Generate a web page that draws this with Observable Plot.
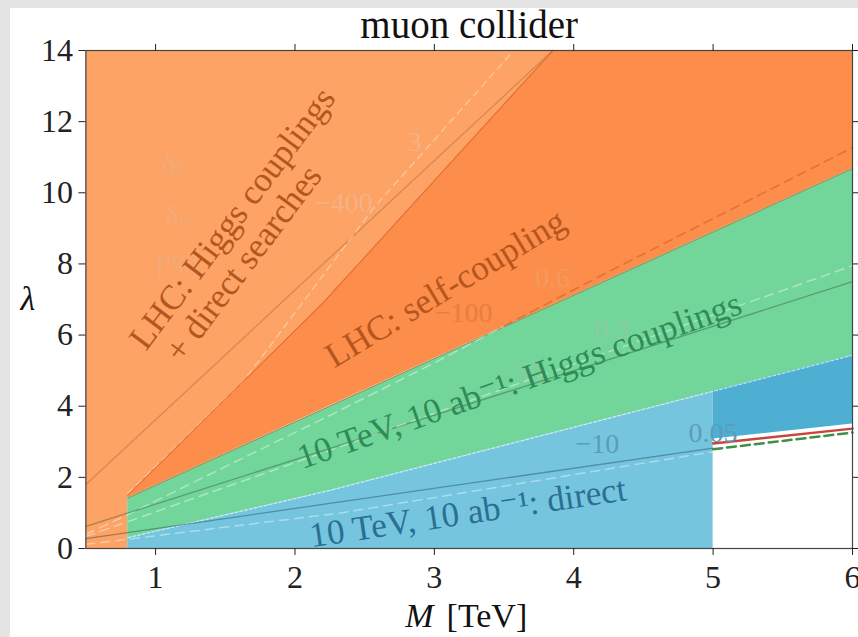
<!DOCTYPE html>
<html><head><meta charset="utf-8">
<script src="https://cdn.jsdelivr.net/npm/d3@7"></script>
<script src="https://cdn.jsdelivr.net/npm/@observablehq/plot@0.6"></script>
<style>
html,body{margin:0;padding:0;background:#e4e4e4;width:858px;height:637px;overflow:hidden;}
#chart{position:absolute;left:10px;top:8px;}
</style></head><body><div id="chart"></div>
<script>
const xTicks = [1, 2, 3, 4, 5, 6];
const yTicks = [0, 2, 4, 6, 8, 10, 12, 14];

// Regions (M in TeV, lambda lower / upper edge)
const lhcHiggsRegion = [
  {M: 0.5, lo: 0, hi: 14}, {M: 0.8, lo: 0, hi: 14}, {M: 0.8, lo: 1.5, hi: 14},
  {M: 1.5, lo: 4.2, hi: 14}, {M: 2.2, lo: 6.9, hi: 14}, {M: 3.85, lo: 14, hi: 14}
];
const lhcSelfRegion = [
  {M: 0.8, lo: 1.42, hi: 1.5}, {M: 1.5, lo: 2.67, hi: 4.2}, {M: 2.2, lo: 3.92, hi: 6.9},
  {M: 3.85, lo: 6.85, hi: 14}, {M: 6, lo: 10.68, hi: 14}
];
const muHiggsRegion = [
  {M: 0.8, lo: 0.3, hi: 1.42}, {M: 2.25, lo: 1.63, hi: 4.0},
  {M: 4.55, lo: 3.96, hi: 8.1}, {M: 6, lo: 5.43, hi: 10.68}
];
const muDirectRegion = [
  {M: 0.8, lo: 0, hi: 0.3}, {M: 2.25, lo: 0, hi: 1.63},
  {M: 4.55, lo: 0, hi: 3.96}, {M: 5, lo: 0, hi: 4.42}
];
const muDirectHighRegion = [{M: 5, lo: 3.08, hi: 4.42}, {M: 6, lo: 3.5, hi: 5.43}];

// Boundary / contour lines
const directEdge = [{M: 0.8, l: 0.3}, {M: 2.25, l: 1.63}, {M: 4.55, l: 3.96}, {M: 6, l: 5.43}];
const selfEdge = [{M: 0.8, l: 1.42}, {M: 6, l: 10.68}];
const higgsEdge = [{M: 0.8, l: 1.5}, {M: 1.5, l: 4.2}, {M: 2.2, l: 6.9}, {M: 3.85, l: 14}];
const lhcHiggsSolid = [{M: 0.5, l: 1.8}, {M: 1.9, l: 6.9}, {M: 3.85, l: 14}];
const lhcHiggsDashed = [{M: 0.8, l: 1.55}, {M: 1.63, l: 4.7}, {M: 2.57, l: 9.6}, {M: 3.57, l: 14}];
const dh06Low = [{M: 0.5, l: 0.4}, {M: 0.8, l: 0.95}, {M: 2.28, l: 3.8}, {M: 3.04, l: 5.3}, {M: 3.5, l: 6.25}];
const dh06High = [{M: 3.5, l: 6.25}, {M: 4.17, l: 7.62}, {M: 6, l: 11.27}];
const greenSolid = [{M: 0.5, l: 0.62}, {M: 6, l: 7.5}];
const greenDashed = [{M: 0.5, l: 0.34}, {M: 6, l: 7.95}];
const blueSolid = [{M: 0.5, l: 0.28}, {M: 5, l: 2.82}];
const blueDashed = [{M: 0.5, l: 0.12}, {M: 0.82, l: 0.27}, {M: 2.33, l: 1.0}, {M: 5, l: 2.72}];
const redLine = [{M: 5, l: 2.95}, {M: 6, l: 3.37}];
const greenDarkDashed = [{M: 5, l: 2.79}, {M: 6, l: 3.26}];

// Text
const regionLabels = [
  {t: "LHC: Higgs couplings", M: 1.551, l: 9.28, r: -53, c: "#b5561f"},
  {t: "+ direct searches", M: 1.63, l: 8.01, r: -53, c: "#b5561f"},
  {t: "LHC: self-coupling", M: 3.08, l: 7.31, r: -31, c: "#b5561f"},
  {t: "10 TeV, 10 ab⁻¹: Higgs couplings", M: 3.61, l: 4.72, r: -19.5, c: "#2f8c55"},
  {t: "10 TeV, 10 ab⁻¹: direct", M: 3.24, l: 1.01, r: -8.5, c: "#2b6f92"}
];
const contourLabels = [
  {t: "δₕ", M: 1.14, l: 10.82, c: "#f2ab7b"},
  {t: "δᵥᵥ", M: 1.18, l: 9.36, c: "#f2ab7b"},
  {t: "[%]", M: 1.16, l: 7.96, c: "#f2ab7b"},
  {t: "3", M: 2.86, l: 11.44, c: "#f6b184"},
  {t: "−400", M: 2.35, l: 9.7, c: "#f6b184"},
  {t: "−100", M: 3.21, l: 6.61, c: "#ea7c40"},
  {t: "0.6", M: 3.85, l: 7.59, c: "#f39a5e"},
  {t: "0.3", M: 4.27, l: 6.18, c: "#8ccaa0"},
  {t: "−50", M: 3.62, l: 4.95, c: "#8ccaa0"},
  {t: "−10", M: 4.17, l: 2.95, c: "#5b9db9"},
  {t: "0.05", M: 5.0, l: 3.26, c: "#5b9db9"}
];

const serif = "'Liberation Serif', 'DejaVu Serif', serif";
const line = (data, o) => Plot.line(data, {x: "M", y: "l", ...o});

const chart = Plot.plot({
  width: 848, height: 629,
  marginLeft: 75.4, marginRight: 6, marginTop: 42, marginBottom: 89,
  x: {domain: [0.5, 6]},
  y: {domain: [0, 14]},
  color: {type: "identity"},
  style: {fontFamily: serif, background: "white", color: "#222", overflow: "visible"},
  marks: [
    Plot.areaY(lhcHiggsRegion, {x: "M", y1: "lo", y2: "hi", fill: "#fca365"}),
    Plot.areaY(lhcSelfRegion, {x: "M", y1: "lo", y2: "hi", fill: "#fc8d4a"}),
    Plot.areaY(muHiggsRegion, {x: "M", y1: "lo", y2: "hi", fill: "#72d69a"}),
    Plot.areaY(muDirectRegion, {x: "M", y1: "lo", y2: "hi", fill: "#75c5df"}),
    Plot.areaY(muDirectHighRegion, {x: "M", y1: "lo", y2: "hi", fill: "#4fafd3"}),
    line(lhcHiggsSolid, {stroke: "#5a2a10", strokeOpacity: 0.22, strokeWidth: 1.3}),
    line(lhcHiggsDashed, {stroke: "white", strokeOpacity: 0.4, strokeWidth: 1.3, strokeDasharray: "7,5"}),
    line(higgsEdge, {stroke: "#e4692a", strokeOpacity: 0.8, strokeWidth: 1.3}),
    line(selfEdge, {stroke: "#b85a28", strokeOpacity: 0.55, strokeWidth: 1.1}),
    line(directEdge, {stroke: "white", strokeOpacity: 0.7, strokeWidth: 1, strokeDasharray: "3,2"}),
    line(dh06Low, {stroke: "white", strokeOpacity: 0.4, strokeWidth: 1.5, strokeDasharray: "9,6"}),
    line(dh06High, {stroke: "#c8561c", strokeOpacity: 0.5, strokeWidth: 1.5, strokeDasharray: "9,6"}),
    line(greenSolid, {stroke: "#1f3a2a", strokeOpacity: 0.35, strokeWidth: 1.3}),
    line(greenDashed, {stroke: "white", strokeOpacity: 0.4, strokeWidth: 1.5, strokeDasharray: "9,6"}),
    line(blueSolid, {stroke: "#1c3a4c", strokeOpacity: 0.4, strokeWidth: 1.3}),
    line(blueDashed, {stroke: "white", strokeOpacity: 0.4, strokeWidth: 1.5, strokeDasharray: "9,6"}),
    line(redLine, {stroke: "#c9463d", strokeWidth: 2.5}),
    line(greenDarkDashed, {stroke: "#3f8f47", strokeWidth: 2.5, strokeDasharray: "9,5"}),
    Plot.text(contourLabels, {x: "M", y: "l", text: "t", fill: "c", fontSize: 28, fontFamily: serif}),
    Plot.text(regionLabels, {x: "M", y: "l", text: "t", fill: "c", rotate: "r", fontSize: 35, fontFamily: serif}),
    Plot.frame({stroke: "#444", strokeWidth: 1.2}),
    Plot.axisX(xTicks, {anchor: "bottom", tickSize: 7, tickPadding: 10, fontSize: 32, label: null, tickFormat: d3.format("d"), fontFamily: serif}),
    Plot.axisX(xTicks, {anchor: "top", tickSize: 7, tickFormat: () => "", label: null}),
    Plot.axisY(yTicks, {anchor: "left", tickSize: 7, tickPadding: 6, fontSize: 32, label: null, tickFormat: d3.format("d"), fontFamily: serif}),
    Plot.axisY(yTicks, {anchor: "right", tickSize: 7, tickFormat: () => "", label: null}),
    Plot.text(["muon collider"], {text: d => d, frameAnchor: "top", lineAnchor: "middle", dy: -25, fontSize: 39, fontFamily: serif, fill: "#111"}),
    Plot.text([{M: 2.893}], {x: "M", text: () => "M", frameAnchor: "bottom", lineAnchor: "middle", dy: 68, fontSize: 34, fontStyle: "italic", fontFamily: serif, fill: "#111"}),
    Plot.text([{M: 3.377}], {x: "M", text: () => "[TeV]", frameAnchor: "bottom", lineAnchor: "middle", dy: 68, fontSize: 34, fontFamily: serif, fill: "#111"}),
    Plot.text([{l: 7}], {y: "l", text: () => "λ", frameAnchor: "left", lineAnchor: "middle", dx: -65.4, fontSize: 34, fontStyle: "italic", fontFamily: serif, fill: "#111"})
  ]
});
document.getElementById("chart").appendChild(chart);
</script>
</body></html>
